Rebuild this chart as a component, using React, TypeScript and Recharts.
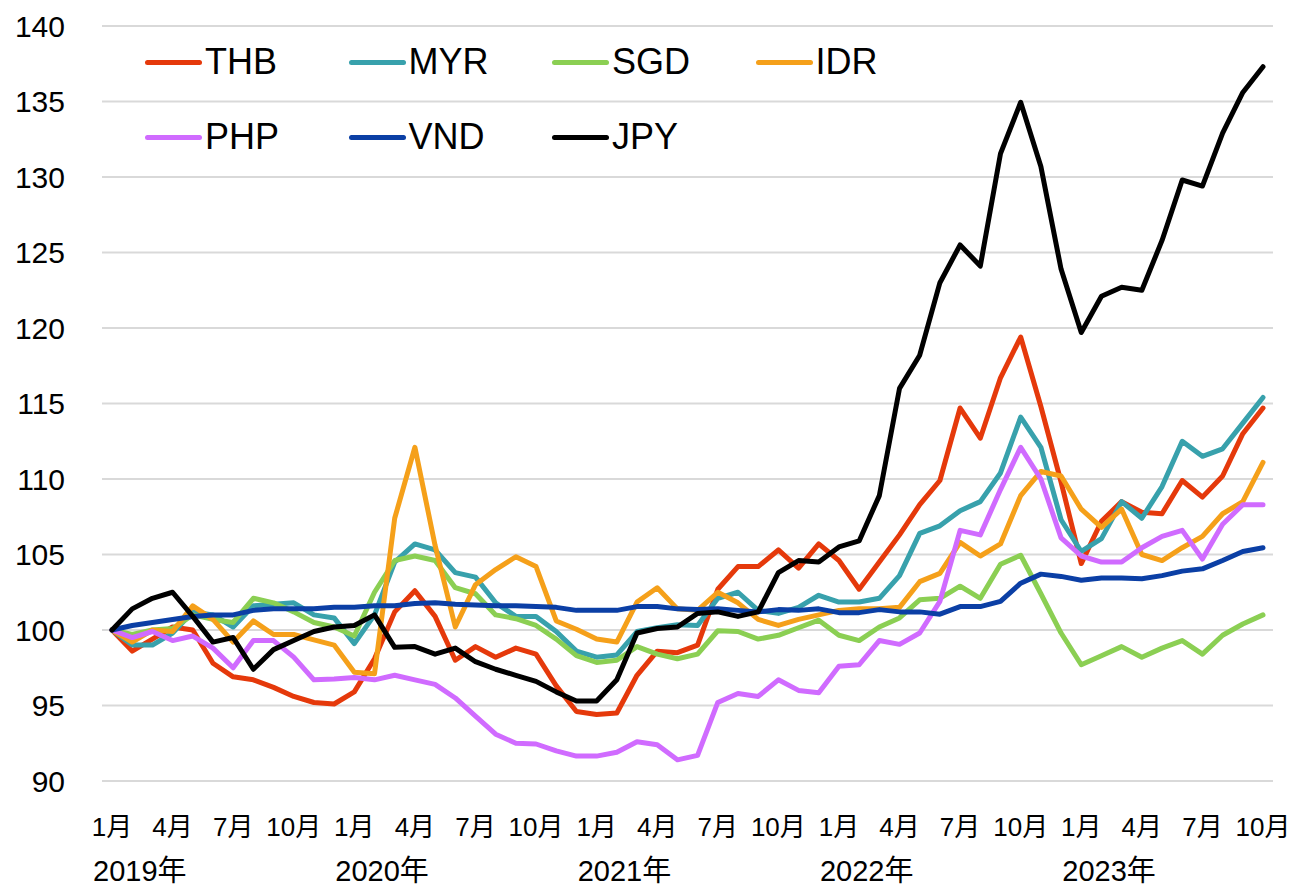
import React from "react";
import { LineChart, Line, XAxis, YAxis, CartesianGrid } from "recharts";

// 2019年1月 = 100
const years = [2019, 2020, 2021, 2022, 2023];
const lastMonth2023 = 10;

const thb = [
  100, 98.6, 99.4, 100.2, 100.0, 97.8, 96.9, 96.7, 96.2, 95.6, 95.2, 95.1,
  95.9, 98.1, 101.2, 102.6, 100.9, 98.0, 98.9, 98.2, 98.8, 98.4, 96.3, 94.6,
  94.4, 94.5, 97.0, 98.6, 98.5, 99.0, 102.7, 104.2, 104.2, 105.3, 104.1, 105.7,
  104.6, 102.7, 104.5, 106.3, 108.3, 109.9, 114.7, 112.7, 116.7, 119.4, 114.8, 109.8,
  104.4, 107.2, 108.5, 107.8, 107.7, 109.9, 108.8, 110.2, 113.0, 114.7,
];
const myr = [
  100, 99.0, 99.0, 99.8, 101.2, 101.0, 100.2, 101.6, 101.7, 101.8, 101.0, 100.8,
  99.1, 101.0, 104.5, 105.7, 105.3, 103.8, 103.5, 101.8, 100.9, 100.9, 99.9, 98.6,
  98.2, 98.35, 99.9, 100.15, 100.35, 100.3, 102.1, 102.5, 101.3, 101.1, 101.5, 102.3,
  101.85, 101.85, 102.1, 103.6, 106.4, 106.9, 107.9, 108.5, 110.4, 114.1, 112.1, 107.3,
  105.2, 106.05, 108.5, 107.4, 109.5, 112.5, 111.5, 112.0, 113.7, 115.4,
];
const sgd = [
  100, 99.7, 100.0, 100.1, 101.0, 100.7, 100.5, 102.1, 101.8, 101.2, 100.5, 100.2,
  99.6, 102.5, 104.6, 104.9, 104.6, 102.8, 102.4, 101.0, 100.75, 100.3, 99.4, 98.3,
  97.85, 98.0, 98.9, 98.4, 98.1, 98.4, 99.95, 99.9, 99.4, 99.65, 100.15, 100.65,
  99.65, 99.3, 100.2, 100.8, 102.0, 102.1, 102.9, 102.1, 104.35, 104.95, 102.4, 99.8,
  97.7, 98.3, 98.9, 98.2, 98.8, 99.3, 98.4, 99.65, 100.4, 101.0,
];
const idr = [
  100, 99.2, 100.0, 99.9, 101.6, 100.7, 99.2, 100.6, 99.7, 99.7, 99.35, 99.0,
  97.2, 97.1, 107.4, 112.1, 105.6, 100.2, 103.0, 104.0, 104.85, 104.2, 100.6, 100.05,
  99.4, 99.2, 101.85, 102.8, 101.4, 101.3, 102.5, 101.8, 100.7, 100.3, 100.7, 101.0,
  101.3, 101.4, 101.4, 101.5, 103.2, 103.75, 105.8, 104.9, 105.7, 108.9, 110.5, 110.2,
  108.0, 106.8, 108.0, 105.0, 104.6, 105.45, 106.2, 107.7, 108.5, 111.1,
];
const php = [
  100, 99.5, 99.9, 99.3, 99.6, 98.8, 97.5, 99.3, 99.3, 98.2, 96.7, 96.75,
  96.85, 96.7, 97.0, 96.7, 96.4, 95.5, 94.3, 93.1, 92.5, 92.45, 92.0, 91.65,
  91.65, 91.9, 92.6, 92.4, 91.4, 91.7, 95.2, 95.8, 95.6, 96.7, 96.0, 95.85,
  97.6, 97.7, 99.3, 99.05, 99.8, 101.9, 106.6, 106.3, 109.3, 112.1, 110.0, 106.1,
  104.9, 104.5, 104.5, 105.45, 106.2, 106.6, 104.7, 107.0, 108.3, 108.3,
];
const vnd = [
  100, 100.3, 100.5, 100.7, 100.9, 101.0, 101.0, 101.3, 101.4, 101.4, 101.4, 101.5,
  101.5, 101.6, 101.6, 101.75, 101.8, 101.7, 101.65, 101.6, 101.6, 101.55, 101.5, 101.3,
  101.3, 101.3, 101.55, 101.55, 101.4, 101.35, 101.4, 101.3, 101.2, 101.35, 101.3, 101.4,
  101.15, 101.15, 101.35, 101.2, 101.2, 101.05, 101.55, 101.55, 101.9, 103.1, 103.7, 103.55,
  103.3, 103.45, 103.45, 103.4, 103.6, 103.9, 104.05, 104.6, 105.2, 105.45,
];
const jpy = [
  100, 101.4, 102.1, 102.5, 100.9, 99.2, 99.5, 97.4, 98.7, 99.3, 99.9, 100.2,
  100.3, 101.0, 98.85, 98.9, 98.4, 98.8, 97.9, 97.4, 97.0, 96.6, 95.9, 95.3,
  95.3, 96.7, 99.8, 100.1, 100.2, 101.1, 101.2, 100.9, 101.2, 103.8, 104.6, 104.5,
  105.5, 105.9, 108.9, 116.0, 118.2, 123.0, 125.5, 124.1, 131.55, 134.95, 130.7, 123.9,
  119.7, 122.1, 122.7, 122.5, 125.8, 129.8, 129.4, 132.9, 135.6, 137.3,
];

const yTicks = [90, 95, 100, 105, 110, 115, 120, 125, 130, 135, 140];
const labelMonths = [1, 4, 7, 10];

const series = [
  { key: "THB", color: "#E5390B", values: thb },
  { key: "MYR", color: "#38A1AC", values: myr },
  { key: "SGD", color: "#8BCF53", values: sgd },
  { key: "IDR", color: "#F5A01A", values: idr },
  { key: "PHP", color: "#D06BFF", values: php },
  { key: "VND", color: "#0B3FA5", values: vnd },
  { key: "JPY", color: "#000000", values: jpy },
];

const categories: string[] = [];
years.forEach((yr) => {
  const end = yr === 2023 ? lastMonth2023 : 12;
  for (let m = 1; m <= end; m++) categories.push(`${yr}-${m}`);
});

const data = categories.map((c, i) => {
  const row: Record<string, string | number> = { month: c };
  series.forEach((s) => (row[s.key] = s.values[i]));
  return row;
});

const tickCategories = categories.filter((c) => labelMonths.includes(Number(c.split("-")[1])));

const FONT = "'Liberation Sans', Arial, 'Noto Sans CJK JP', sans-serif";

function MonthTick({ x, y, payload }: any) {
  const [yr, m] = String(payload.value).split("-");
  return (
    <g fontFamily={FONT} fill="#000">
      <text x={x} y={y + 55} textAnchor="middle" fontSize={26}>
        {m}月
      </text>
      {m === "1" && (
        <text x={x - 19} y={y + 100} textAnchor="start" fontSize={29}>
          {yr}年
        </text>
      )}
    </g>
  );
}

function LegendBox() {
  return (
    <>
      {series.map((s, i) => (
        <div
          key={s.key}
          style={{
            position: "absolute",
            left: 145 + (i % 4) * 203.5,
            top: 37 + Math.floor(i / 4) * 75,
            height: 50,
            display: "flex",
            alignItems: "center",
            fontFamily: FONT,
            fontSize: 36,
            color: "#000",
          }}
        >
          <div style={{ width: 57, height: 5, borderRadius: 3, background: s.color }} />
          <span style={{ marginLeft: 3, lineHeight: 1 }}>{s.key}</span>
        </div>
      ))}
    </>
  );
}

export default function App() {
  return (
    <div style={{ position: "absolute", left: 0, top: 0, width: 1296, height: 887, background: "#fff" }}>
      <LineChart width={1296} height={887} data={data} margin={{ top: 26, right: 23, left: 0, bottom: 0 }}>
        <CartesianGrid vertical={false} stroke="#d9d9d9" strokeWidth={2} />
        <XAxis
          dataKey="month"
          ticks={tickCategories}
          interval={0}
          tick={<MonthTick />}
          tickLine={false}
          axisLine={false}
          tickSize={0}
          tickMargin={0}
          height={106}
          padding={{ left: 10, right: 10 }}
        />
        <YAxis
          domain={[90, 140]}
          ticks={yTicks}
          width={102}
          tickLine={false}
          axisLine={false}
          tickSize={0}
          tickMargin={37}
          tick={{ fill: "#000", fontSize: 30, fontFamily: FONT }}
        />
        {series.map((s) => (
          <Line
            key={s.key}
            type="linear"
            dataKey={s.key}
            stroke={s.color}
            strokeWidth={5}
            strokeLinejoin="round"
            strokeLinecap="round"
            dot={false}
            activeDot={false}
            isAnimationActive={false}
          />
        ))}
      </LineChart>
      <LegendBox />
    </div>
  );
}
